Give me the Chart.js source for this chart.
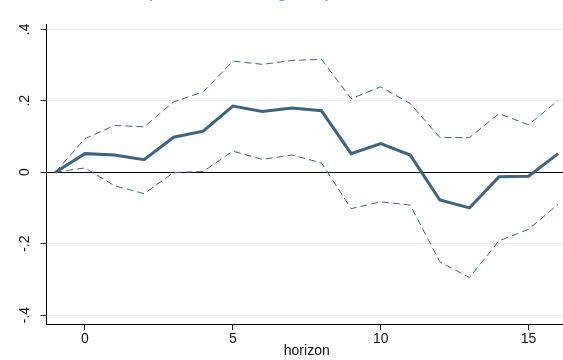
<!DOCTYPE html>
<html>
<head>
<meta charset="utf-8">
<script src="https://cdn.jsdelivr.net/npm/chart.js@4.4.1/dist/chart.umd.min.js"></script>
<style>
  html, body { margin: 0; padding: 0; background: #fff; overflow: hidden; }
  canvas { display: block; }
</style>
</head>
<body>
<canvas id="grafico" width="567" height="360"></canvas>
<script>
// Data
const horizon = [-1, 0, 1, 2, 3, 4, 5, 6, 7, 8, 9, 10, 11, 12, 13, 14, 15, 16];
const irf = [0, 0.052, 0.048, 0.035, 0.098, 0.115, 0.185, 0.170, 0.180, 0.172, 0.052, 0.080, 0.048, -0.078, -0.100, -0.013, -0.011, 0.052];
const upper = [0, 0.094, 0.131, 0.127, 0.197, 0.225, 0.311, 0.302, 0.313, 0.316, 0.206, 0.239, 0.192, 0.097, 0.097, 0.164, 0.133, 0.201];
const lower = [0, 0.012, -0.038, -0.060, -0.001, 0.002, 0.059, 0.036, 0.048, 0.026, -0.102, -0.083, -0.092, -0.251, -0.295, -0.192, -0.160, -0.090];
const xTicks = [0, 5, 10, 15];
const yTicks = [-0.4, -0.2, 0, 0.2, 0.4];
const yTickLabels = ["-.4", "-.2", "0", ".2", ".4"];
const titulo = "(effect on the log rate)";

const cor = "#3d6482";
const fonte = "'Liberation Sans', Arial, sans-serif";
const pares = arr => arr.map((v, i) => ({ x: horizon[i], y: v }));

// Rotated y labels, Stata style
const rotuloY = {
  id: "rotuloY",
  afterDraw(chart) {
    const ctx = chart.ctx;
    const y = chart.scales.y;
    ctx.save();
    ctx.fillStyle = "#111";
    ctx.font = "14px " + fonte;
    ctx.textAlign = "center";
    ctx.textBaseline = "middle";
    yTicks.forEach((v, i) => {
      ctx.save();
      ctx.translate(25, y.getPixelForValue(v));
      ctx.rotate(-Math.PI / 2);
      ctx.fillText(yTickLabels[i], 0, 0);
      ctx.restore();
    });
    // title cut by the top edge, only descenders show
    ctx.fillStyle = "#5b9bd5";
    ctx.font = "19px " + fonte;
    ctx.textAlign = "left";
    ctx.textBaseline = "alphabetic";
    ctx.fillText(titulo, 146, -3);
    ctx.restore();
  }
};

new Chart(document.getElementById("grafico"), {
  type: "line",
  data: {
    datasets: [
      { data: pares(irf), borderColor: cor, borderWidth: 3, pointRadius: 0, tension: 0, order: 1 },
      { data: pares(upper), borderColor: cor, borderWidth: 1, borderDash: [7, 4], pointRadius: 0, tension: 0, order: 2 },
      { data: pares(lower), borderColor: cor, borderWidth: 1, borderDash: [7, 4], pointRadius: 0, tension: 0, order: 2 }
    ]
  },
  options: {
    responsive: false,
    animation: false,
    layout: { padding: { top: 24, right: 0, left: 0, bottom: 0 } },
    plugins: { legend: { display: false }, tooltip: { enabled: false } },
    scales: {
      x: {
        type: "linear",
        min: -1.3,
        max: 16.3,
        afterBuildTicks: s => { s.ticks = xTicks.map(v => ({ value: v })); },
        afterFit: s => { s.height = 36; },
        grid: { drawOnChartArea: false, drawTicks: true, tickLength: 6, tickColor: "#222" },
        border: { display: true, color: "#000", width: 1 },
        ticks: { color: "#111", padding: 1, maxRotation: 0, font: { family: fonte, size: 14 } },
        title: { display: true, text: "horizon", color: "#111", padding: 0, font: { family: fonte, size: 14 } }
      },
      y: {
        min: -0.425,
        max: 0.415,
        afterBuildTicks: s => { s.ticks = yTicks.map(v => ({ value: v })); },
        afterFit: s => { s.width = 46.5; },
        grid: {
          color: c => (c.tick && c.tick.value === 0 ? "#000" : "#e6eef1"),
          lineWidth: 1,
          drawTicks: true,
          tickLength: 6,
          tickColor: "#222"
        },
        border: { display: true, color: "#000", width: 1 },
        ticks: { display: false }
      }
    }
  },
  plugins: [rotuloY]
});
</script>
</body>
</html>
